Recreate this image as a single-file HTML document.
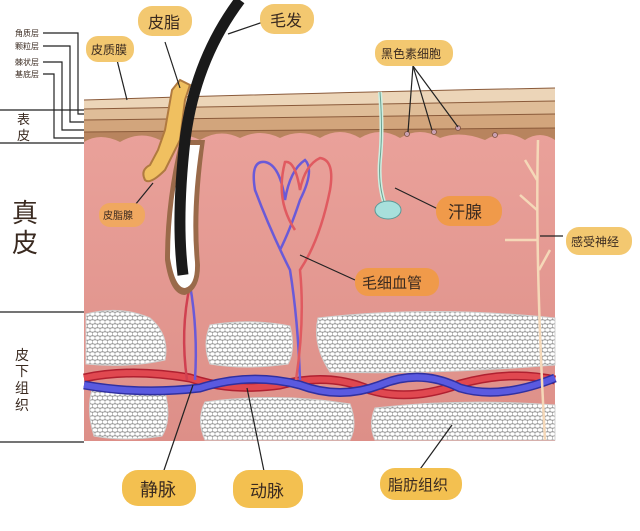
<!DOCTYPE html>
<html><head><meta charset="utf-8"><style>
body{margin:0;background:#fff}
svg{display:block}
text{font-family:"Liberation Sans","Noto Sans CJK SC",sans-serif;fill:#3a2a20}
</style></head><body>
<svg width="640" height="531" viewBox="0 0 640 531" xmlns="http://www.w3.org/2000/svg">
<defs>
<pattern id="fat" width="10" height="8" patternUnits="userSpaceOnUse">
<rect width="10" height="8" fill="#9a9a9a"/>
<ellipse cx="2.5" cy="2" rx="2.3" ry="1.7" fill="#fff"/>
<ellipse cx="7.5" cy="2" rx="2.3" ry="1.7" fill="#fff"/>
<ellipse cx="5" cy="6" rx="2.3" ry="1.7" fill="#fff"/>
<ellipse cx="0" cy="6" rx="2.3" ry="1.7" fill="#fff"/>
<ellipse cx="10" cy="6" rx="2.3" ry="1.7" fill="#fff"/>
</pattern>
<linearGradient id="pk" x1="0" y1="0" x2="0" y2="1">
<stop offset="0" stop-color="#eba39c"/><stop offset="1" stop-color="#dd8f88"/>
</linearGradient>
</defs>
<g stroke="#222" stroke-width="1.2" fill="none">
<line x1="0" y1="110" x2="84" y2="110"/>
<line x1="0" y1="143" x2="84" y2="143"/>
<line x1="0" y1="312" x2="84" y2="312"/>
<line x1="0" y1="442" x2="84" y2="442"/>
<polyline points="43,33 78,33 78,114 88,114"/>
<polyline points="43,46 70,46 70,122 88,122"/>
<polyline points="43,62 62,62 62,130 88,130"/>
<polyline points="43,74 54,74 54,138 88,138"/>
</g>
<text x="15" y="36" font-size="8">角质层</text>
<text x="15" y="49" font-size="8">颗粒层</text>
<text x="15" y="65" font-size="8">棘状层</text>
<text x="15" y="77" font-size="8">基底层</text>
<text x="17" y="124" font-size="13">表</text>
<text x="17" y="140" font-size="13">皮</text>
<text x="12" y="222" font-size="26">真</text>
<text x="12" y="252" font-size="26">皮</text>
<text x="15" y="360" font-size="14">皮</text>
<text x="15" y="376" font-size="14">下</text>
<text x="15" y="393" font-size="14">组</text>
<text x="15" y="410" font-size="14">织</text>

<rect x="84" y="100" width="471" height="341" fill="url(#pk)"/>
<path d="M84,100 Q300,93 555,88 L555,140 Q540,130 525,140 Q505,128 485,140 Q460,130 440,138 Q420,126 400,138 Q380,126 360,138 Q340,126 320,138 Q300,128 280,138 Q260,128 240,138 Q220,128 200,140 Q180,130 160,140 Q140,130 120,142 Q100,132 84,142 Z" fill="#b8845e"/>
<path d="M84,100 Q300,93 555,88 L555,128 Q320,130 84,132 Z" fill="#d2a57c"/>
<path d="M84,100 Q300,93 555,88 L555,114 Q320,118 84,120 Z" fill="#dfbd98"/>
<path d="M84,100 Q300,93 555,88 L555,101 Q320,105 84,109 Z" fill="#ecd5b8"/>
<g stroke="#8a5a3a" stroke-width="1" fill="none">
<path d="M84,109 Q320,105 555,101"/><path d="M84,120 Q320,118 555,114"/><path d="M84,132 Q320,130 555,128"/>
<path d="M84,100 Q300,93 555,88"/>
</g>
<g fill="#c9a0b0" stroke="#7a5040" stroke-width="0.8"><circle cx="407" cy="134" r="2.5"/><circle cx="434" cy="132" r="2.5"/><circle cx="458" cy="128" r="2.5"/><circle cx="495" cy="135" r="2.5"/></g>

<g fill="url(#fat)" stroke="#d0d0d0" stroke-width="1">
<path d="M86,314 Q120,305 150,318 Q170,335 165,360 Q130,368 86,364 Z"/>
<path d="M210,325 Q250,318 290,326 Q296,350 288,364 Q245,370 210,364 Q202,345 210,325 Z"/>
<path d="M318,318 Q430,305 555,318 L555,365 Q430,375 330,372 Q312,345 318,318 Z"/>
<path d="M92,390 Q130,383 165,392 Q172,420 162,436 Q125,442 94,436 Q86,410 92,390 Z"/>
<path d="M205,402 Q280,392 350,404 Q358,425 350,440 L205,440 Q196,420 205,402 Z"/>
<path d="M375,408 Q460,398 555,405 L555,440 L375,440 Q368,425 375,408 Z"/>
</g>
<path d="M84,378 Q130,368 190,378 Q230,392 280,385 Q330,372 370,390 Q410,402 460,384 Q510,370 555,380" stroke="#b02030" stroke-width="9" fill="none"/>
<path d="M84,378 Q130,368 190,378 Q230,392 280,385 Q330,372 370,390 Q410,402 460,384 Q510,370 555,380" stroke="#e04850" stroke-width="6" fill="none"/>
<path d="M84,385 Q140,395 200,388 Q250,372 300,385 Q340,400 380,385 Q420,368 460,388 Q500,400 555,378" stroke="#3030a0" stroke-width="9" fill="none"/>
<path d="M84,385 Q140,395 200,388 Q250,372 300,385 Q340,400 380,385 Q420,368 460,388 Q500,400 555,378" stroke="#5a5ae0" stroke-width="6" fill="none"/>

<g fill="none" stroke-width="2.5">
<path d="M300,380 Q298,320 290,270 Q270,230 255,190 Q250,160 265,162 Q280,165 285,200 Q290,170 305,160 Q315,170 300,200 Q290,230 280,250" stroke="#6a5ad8"/>
<path d="M296,380 Q305,320 300,270 Q320,240 330,190 Q335,160 320,158 Q305,165 300,190 Q295,160 285,162 Q275,200 295,230" stroke="#e05a60"/>
<path d="M187,380 Q180,330 190,285" stroke="#d04050"/><path d="M195,380 Q198,330 190,285" stroke="#6a5ad8"/>
</g>
<g stroke="#f5d8b8" stroke-width="2.5" fill="none"><path d="M538,140 Q535,260 545,440"/><path d="M537,180 L525,160"/><path d="M537,210 L520,195"/><path d="M538,240 L505,240"/><path d="M539,270 L550,250"/></g>
<path d="M380,92 Q383,130 380,160 Q378,185 385,205" stroke="#cfeee0" stroke-width="4" fill="none"/>
<path d="M380,92 Q383,130 380,160 Q378,185 385,205" stroke="#6aa090" stroke-width="1" fill="none"/>
<ellipse cx="388" cy="210" rx="13" ry="9" fill="#a8e0dc" stroke="#5a9a98"/>

<path d="M172,90 L180,80 L190,85 L185,100 L180,140 L165,170 Q150,185 145,180 Q140,170 150,165 L158,150 L165,130 Z" fill="#f0c060" stroke="#b07a40" stroke-width="2"/>
<path d="M180,140 Q165,200 165,260 Q170,295 185,295 Q200,290 200,265 Q195,210 205,140 Z" fill="#9a6a4a"/>
<path d="M184,145 Q170,200 170,258 Q175,288 185,288 Q196,285 195,262 Q190,210 200,145 Z" fill="#fff"/>
<path d="M240,0 Q195,60 185,140 Q176,220 183,275" stroke="#1a1a1a" stroke-width="11" fill="none"/>

<g stroke="#222" stroke-width="1.2">
<line x1="117" y1="60" x2="127" y2="100"/><line x1="165" y1="42" x2="180" y2="88"/>
<line x1="263" y1="22" x2="228" y2="34"/><line x1="413" y1="66" x2="408" y2="132"/>
<line x1="413" y1="66" x2="432" y2="130"/><line x1="413" y1="66" x2="458" y2="127"/>
<line x1="440" y1="210" x2="395" y2="188"/><line x1="563" y1="236" x2="540" y2="236"/>
<line x1="355" y1="280" x2="300" y2="255"/><line x1="135" y1="205" x2="153" y2="183"/>
<line x1="162" y1="476" x2="193" y2="385"/><line x1="265" y1="476" x2="247" y2="388"/>
<line x1="418" y1="472" x2="452" y2="425"/>
</g>
<g>
<rect x="86" y="36" width="48" height="26" rx="12" fill="#f3c870"/><text x="91" y="54" font-size="12">皮质膜</text>
<rect x="138" y="6" width="54" height="30" rx="14" fill="#f3c870"/><text x="148" y="28" font-size="16">皮脂</text>
<rect x="260" y="4" width="54" height="30" rx="14" fill="#f3c870"/><text x="270" y="26" font-size="16">毛发</text>
<rect x="375" y="40" width="78" height="26" rx="12" fill="#f3c870"/><text x="381" y="58" font-size="12">黑色素细胞</text>
<rect x="436" y="196" width="66" height="30" rx="14" fill="#f09a4a"/><text x="448" y="218" font-size="17">汗腺</text>
<rect x="566" y="227" width="66" height="28" rx="13" fill="#f3c870"/><text x="571" y="246" font-size="12">感受神经</text>
<rect x="355" y="268" width="84" height="28" rx="13" fill="#f09a4a"/><text x="362" y="288" font-size="15">毛细血管</text>
<rect x="99" y="203" width="46" height="24" rx="11" fill="#f0a860"/><text x="103" y="219" font-size="10">皮脂腺</text>
<rect x="122" y="470" width="74" height="36" rx="16" fill="#f3c050"/><text x="140" y="496" font-size="18">静脉</text>
<rect x="233" y="470" width="70" height="38" rx="16" fill="#f3c050"/><text x="250" y="497" font-size="17">动脉</text>
<rect x="380" y="468" width="82" height="32" rx="15" fill="#f3c050"/><text x="388" y="490" font-size="15">脂肪组织</text>
</g>
</svg>
</body></html>
